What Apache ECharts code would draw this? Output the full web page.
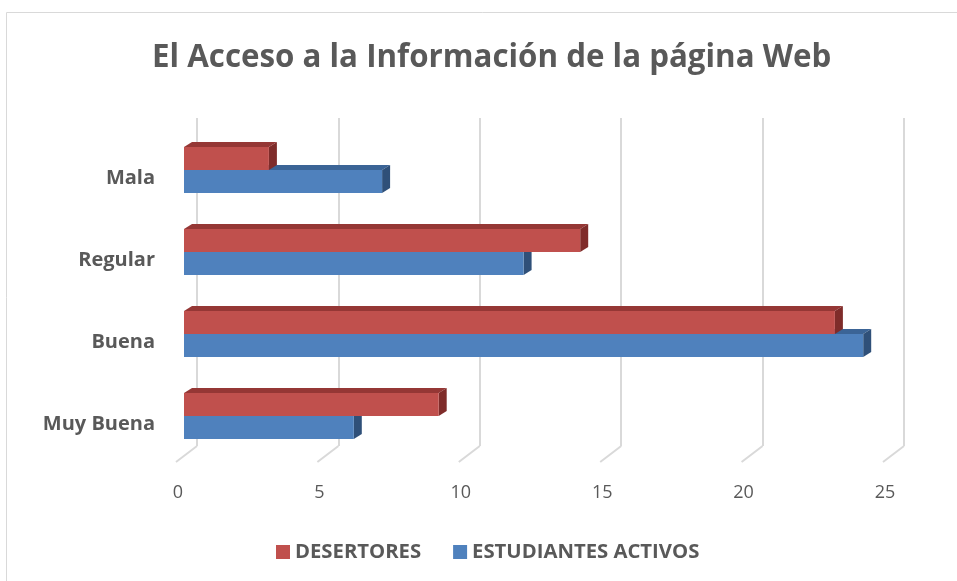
<!DOCTYPE html>
<html>
<head>
<meta charset="utf-8">
<script src="https://cdn.jsdelivr.net/npm/echarts@6/dist/echarts.min.js"></script>
<style>
  html, body { margin: 0; padding: 0; background: #fff; }
  #chart { width: 957px; height: 581px; }
</style>
</head>
<body>
<div id="chart"></div>
<script>
// datos del grafico
var categorias = ['Muy Buena', 'Buena', 'Regular', 'Mala'];
var desertores = [9, 23, 14, 3];
var activos = [6, 24, 12, 7];
var ticks = [0, 5, 10, 15, 20, 25];

var chart = echarts.init(document.getElementById('chart'));

// barra con efecto 3D (cara frontal, superior y lateral)
function barra3d(arriba, colores) {
    return function (params, api) {
        var cat = api.value(1);
        var val = api.value(0);
        var fin = api.coord([val, cat]);
        var ini = api.coord([0, cat]);
        var alto = api.size([0, 1])[1] * 0.28;
        var y0 = arriba ? fin[1] - alto : fin[1];
        var y1 = y0 + alto;
        var dx = 8, dy = -5;
        return {
            type: 'group',
            children: [
                { type: 'polygon', shape: { points: [[ini[0], y0], [ini[0] + dx, y0 + dy], [fin[0] + dx, y0 + dy], [fin[0], y0]] },
                  style: { fill: colores[1] } },
                { type: 'polygon', shape: { points: [[fin[0], y0], [fin[0] + dx, y0 + dy], [fin[0] + dx, y1 + dy], [fin[0], y1]] },
                  style: { fill: colores[2] } },
                { type: 'rect', shape: { x: ini[0], y: y0, width: fin[0] - ini[0], height: alto },
                  style: { fill: colores[0] } }
            ]
        };
    };
}

function pares(vals) {
    return vals.map(function (v, i) { return [v, categorias[i]]; });
}

var gris = '#595959';
var fuente = 'Open Sans';

option = {
    title: {
        text: 'El Acceso a la Información de la página Web',
        left: 147,
        top: 38,
        textStyle: { fontFamily: fuente, fontWeight: 'bold', fontSize: 31.3, color: gris }
    },
    graphic: [{
        type: 'rect',
        shape: { x: 6.5, y: 12.5, width: 1000, height: 700 },
        style: { fill: 'none', stroke: '#d9d9d9', lineWidth: 1 },
        silent: true
    }],
    legend: {
        data: ['DESERTORES', 'ESTUDIANTES ACTIVOS'],
        left: 271,
        top: 537,
        icon: 'rect',
        itemWidth: 14,
        itemHeight: 14,
        itemGap: 32,
        textStyle: { fontFamily: fuente, fontWeight: 'bold', fontSize: 20.3, color: gris }
    },
    grid: [
        // pared del fondo
        { left: 197, right: 53, top: 118, bottom: 135 },
        // barras
        { left: 184, right: 65.5, top: 129, bottom: 124 },
        // etiquetas
        { left: 178, right: 72, top: 137, bottom: 116 }
    ],
    xAxis: [
        { gridIndex: 0, type: 'value', min: 0, max: 25, interval: 5,
          axisLine: { show: false }, axisTick: { show: false }, axisLabel: { show: false },
          splitLine: { lineStyle: { color: '#d9d9d9', width: 2 } } },
        { gridIndex: 1, type: 'value', min: 0, max: 25, interval: 5, show: false },
        { gridIndex: 2, type: 'value', min: 0, max: 25, interval: 5,
          axisLine: { show: false }, axisTick: { show: false }, splitLine: { show: false },
          axisLabel: { margin: 19, fontFamily: fuente, fontSize: 18, color: gris } }
    ],
    yAxis: [
        { gridIndex: 0, type: 'value', min: 0, max: 1, show: false },
        { gridIndex: 1, type: 'category', data: categorias, show: false },
        { gridIndex: 2, type: 'category', data: categorias,
          axisLine: { show: false }, axisTick: { show: false },
          axisLabel: { margin: 23, fontFamily: fuente, fontWeight: 'bold', fontSize: 20, color: gris } }
    ],
    series: [
        {
            // lineas del piso
            type: 'custom',
            xAxisIndex: 0, yAxisIndex: 0,
            silent: true,
            data: ticks.map(function (t) { return [t, 0]; }),
            renderItem: function (params, api) {
                var p = api.coord([api.value(0), 0]);
                return { type: 'line', shape: { x1: p[0], y1: p[1], x2: p[0] - 21, y2: p[1] + 16 },
                         style: { stroke: '#d9d9d9', lineWidth: 2 } };
            }
        },
        {
            name: 'DESERTORES',
            type: 'custom',
            xAxisIndex: 1, yAxisIndex: 1,
            z: 4,
            itemStyle: { color: '#C0504D' },
            encode: { x: 0, y: 1 },
            data: pares(desertores),
            renderItem: barra3d(true, ['#C0504D', '#953735', '#7F2C2A'])
        },
        {
            name: 'ESTUDIANTES ACTIVOS',
            type: 'custom',
            xAxisIndex: 1, yAxisIndex: 1,
            z: 3,
            itemStyle: { color: '#4F81BD' },
            encode: { x: 0, y: 1 },
            data: pares(activos),
            renderItem: barra3d(false, ['#4F81BD', '#3B6496', '#2F5079'])
        }
    ]
};

chart.setOption(option);
</script>
</body>
</html>
